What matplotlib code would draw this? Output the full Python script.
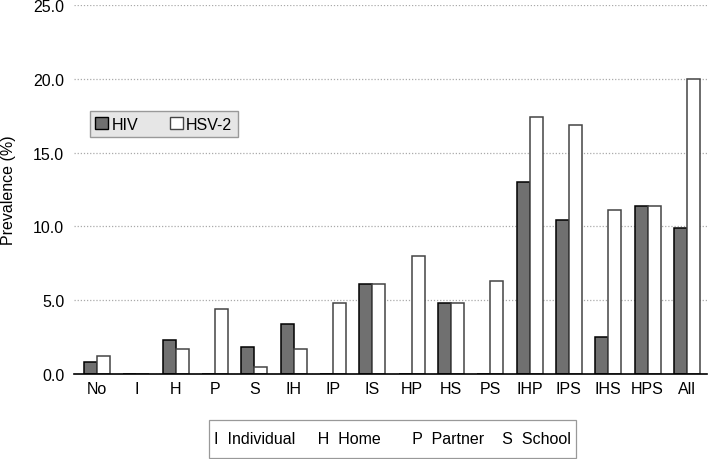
import numpy as np
import matplotlib.pyplot as plt
from matplotlib.patches import Patch, Rectangle

plt.rcParams['font.family'] = ['Liberation Sans', 'DejaVu Sans']

# data
categories = ['No', 'I', 'H', 'P', 'S', 'IH', 'IP', 'IS', 'HP', 'HS', 'PS',
              'IHP', 'IPS', 'IHS', 'HPS', 'All']
hiv = [0.8, 0.0, 2.3, 0.0, 1.8, 3.4, 0.0, 6.1, 0.0, 4.8, 0.0,
       13.0, 10.4, 2.5, 11.4, 9.9]
hsv2 = [1.2, 0.0, 1.7, 4.4, 0.5, 1.7, 4.8, 6.1, 8.0, 4.8, 6.3,
        17.4, 16.9, 11.1, 11.4, 20.0]
yticks = [0, 5, 10, 15, 20, 25]
key_text = 'I  Individual     H  Home       P  Partner    S  School'

fig = plt.figure(figsize=(7.08, 4.6), dpi=100)
ax = fig.add_axes([0.1045, 0.185, 0.894, 0.802])

x = np.arange(len(categories))
w = 0.33
ax.bar(x - w/2, hiv, w, color='#707070', edgecolor='black', linewidth=1.1, zorder=3)
ax.bar(x + w/2, hsv2, w, color='white', edgecolor='#444444', linewidth=1.1, zorder=3)

ax.set_xlim(-0.585, 15.51)
ax.set_ylim(0, 25)
ax.set_yticks(yticks)
ax.set_yticklabels(['%.1f' % v for v in yticks], fontsize=11.5)
ax.set_xticks(x)
ax.set_xticklabels(categories, fontsize=11.5)
ax.tick_params(axis='both', length=0)
ax.tick_params(axis='y', pad=7)
ax.tick_params(axis='x', pad=5)
ax.yaxis.grid(True, linestyle=(0, (1, 1.5)), color='#aaaaaa', linewidth=0.9, zorder=0)
for s in ['top', 'right', 'left']:
    ax.spines[s].set_visible(False)
ax.spines['bottom'].set_color('black')
ax.spines['bottom'].set_linewidth(1.2)
ax.spines['bottom'].set_zorder(4)
ax.set_ylabel('Prevalence (%)', fontsize=11.5)
ax.yaxis.set_label_coords(-0.092, 0.5)

handles = [Patch(facecolor='#707070', edgecolor='black', label='HIV'),
           Patch(facecolor='white', edgecolor='#444444', label='HSV-2')]
leg = ax.legend(handles=handles, ncol=2, loc='upper left',
                bbox_to_anchor=(0.025, 0.712), fontsize=11.5, frameon=True,
                fancybox=False, handlelength=0.8, handleheight=0.8,
                handletextpad=0.2, columnspacing=2.0, borderpad=0.35,
                borderaxespad=0)
leg.get_frame().set_facecolor('#e6e6e6')
leg.get_frame().set_edgecolor('#999999')
leg.get_frame().set_alpha(1)

# abbreviation key box under the chart
fig.patches.append(Rectangle((0.2952, 0.002), 0.5184, 0.0826, transform=fig.transFigure,
                             facecolor='white', edgecolor='#999999', linewidth=0.9))
fig.text(0.5545, 0.0435, key_text, fontsize=11.5, ha='center', va='center')

fig.savefig('out.png', dpi=100)
